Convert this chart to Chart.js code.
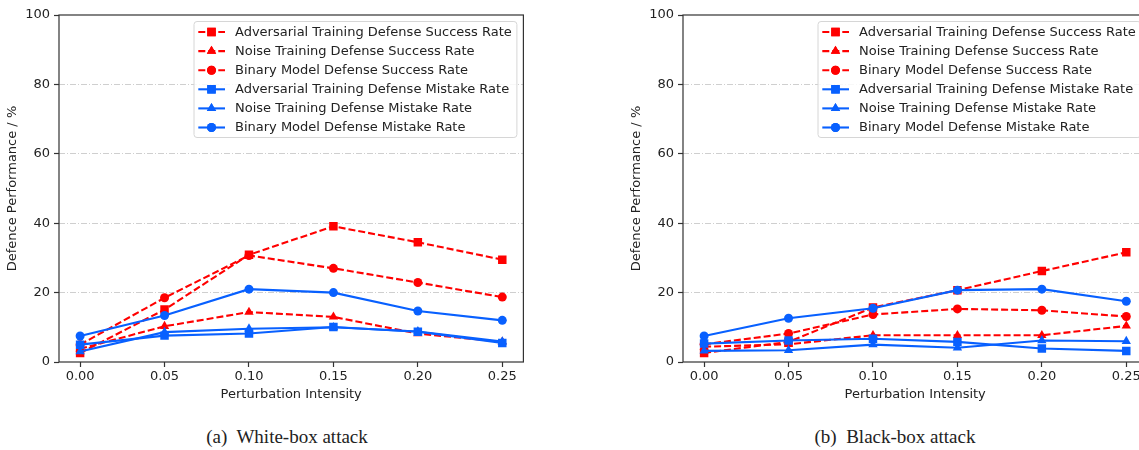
<!DOCTYPE html>
<html>
<head>
<meta charset="utf-8">
<script src="https://cdn.jsdelivr.net/npm/chart.js@4"></script>
<style>
  html, body { margin: 0; padding: 0; background: #fff; }
  body { width: 1139px; height: 450px; overflow: hidden; position: relative; }
  canvas { position: absolute; top: 0; }
  #cA { left: 0; }
  #cB { left: 624px; }
  .cap { position: absolute; top: 426px; font-family: "Liberation Serif", "Times New Roman", serif; font-size: 19px; color: #222; white-space: pre; transform: translateX(-50%); }
</style>
</head>
<body>
<canvas id="cA" width="560" height="410"></canvas>
<canvas id="cB" width="560" height="410"></canvas>
<div class="cap" style="left:287px">(a)  White-box attack</div>
<div class="cap" style="left:895px">(b)  Black-box attack</div>
<script>
// ---------- data ----------
const xTicks = [0.00, 0.05, 0.10, 0.15, 0.20, 0.25];
const yTicks = [0, 20, 40, 60, 80, 100];
const seriesNames = [
  "Adversarial Training Defense Success Rate",
  "Noise Training Defense Success Rate",
  "Binary Model Defense Success Rate",
  "Adversarial Training Defense Mistake Rate",
  "Noise Training Defense Mistake Rate",
  "Binary Model Defense Mistake Rate"
];
const xTitle = "Perturbation Intensity";
const yTitle = "Defence Performance / %";

// White-box attack
const whiteAdvSuccess    = [2.6, 15.1, 30.9, 39.1, 34.5, 29.5];
const whiteNoiseSuccess  = [3.8, 10.3, 14.4, 13.0, 8.2, 5.8];
const whiteBinarySuccess = [5.0, 18.5, 30.7, 27.0, 22.9, 18.7];
const whiteAdvMistake    = [5.0, 7.6, 8.2, 10.1, 8.7, 5.5];
const whiteNoiseMistake  = [3.0, 8.6, 9.6, 10.0, 8.8, 5.9];
const whiteBinaryMistake = [7.5, 13.4, 21.0, 20.0, 14.7, 12.0];

// Black-box attack
const blackAdvSuccess    = [2.6, 5.8, 15.7, 20.7, 26.2, 31.6];
const blackNoiseSuccess  = [4.4, 5.1, 7.7, 7.7, 7.7, 10.4];
const blackBinarySuccess = [5.1, 8.2, 13.7, 15.3, 14.9, 13.1];
const blackAdvMistake    = [5.3, 6.2, 6.7, 5.8, 3.9, 3.2];
const blackNoiseMistake  = [3.2, 3.4, 5.0, 4.1, 6.2, 6.0];
const blackBinaryMistake = [7.5, 12.6, 15.5, 20.7, 21.0, 17.5];

// ---------- styles ----------
const RED = "#ff0000";
const BLUE = "rgb(8,96,255)";
const FONT = "'DejaVu Sans', sans-serif";
const FS = 13;
const TXT = "#222";
const styles = [
  {color: RED, dash: [7, 3], point: "rect", r: 6, order: 2},
  {color: RED, dash: [7, 3], point: "triangle", r: 5.4, order: 2},
  {color: RED, dash: [7, 3], point: "circle", r: 4.5, order: 2},
  {color: BLUE, dash: [], point: "rect", r: 6, order: 1},
  {color: BLUE, dash: [], point: "triangle", r: 5.4, order: 1},
  {color: BLUE, dash: [], point: "circle", r: 4.5, order: 1}
];

function toPoints(vals) { return vals.map((v, i) => ({x: xTicks[i], y: v})); }

function makeDatasets(arrs) {
  return arrs.map((vals, i) => {
    const s = styles[i];
    return {
      label: seriesNames[i],
      data: toPoints(vals),
      borderColor: s.color,
      backgroundColor: s.color,
      pointBackgroundColor: s.color,
      pointBorderColor: s.color,
      pointBorderWidth: 0,
      borderWidth: 2.1,
      borderDash: s.dash,
      pointStyle: s.point,
      pointRadius: s.r,
      pointHoverRadius: s.r,
      tension: 0,
      order: s.order,
      _legendStyle: s
    };
  });
}

// frame + inner legend plugin
const framePlugin = {
  id: "frameLegend",
  afterDraw(chart) {
    const ctx = chart.ctx;
    const a = chart.chartArea;
    ctx.save();
    // frame
    ctx.strokeStyle = "#333";
    ctx.lineWidth = 1.2;
    ctx.setLineDash([]);
    ctx.strokeRect(a.left, a.top, a.right - a.left, a.bottom - a.top);
    // legend
    const bx = a.left + 135, by = a.top + 6.5;
    const bw = a.right - 6.5 - bx, bh = 116;
    ctx.fillStyle = "rgba(255,255,255,0.85)";
    ctx.strokeStyle = "#d6d6d6";
    ctx.lineWidth = 1;
    ctx.beginPath();
    if (ctx.roundRect) ctx.roundRect(bx, by, bw, bh, 3); else ctx.rect(bx, by, bw, bh);
    ctx.fill();
    ctx.stroke();
    ctx.font = FS + "px " + FONT;
    ctx.textBaseline = "middle";
    ctx.textAlign = "left";
    chart.data.datasets.forEach((ds, i) => {
      const s = ds._legendStyle;
      const cy = by + 10.5 + i * 19.1;
      ctx.strokeStyle = s.color;
      ctx.lineWidth = 2.1;
      ctx.setLineDash(s.dash);
      ctx.beginPath();
      ctx.moveTo(bx + 4.3, cy);
      ctx.lineTo(bx + 31, cy);
      ctx.stroke();
      ctx.setLineDash([]);
      ctx.fillStyle = s.color;
      Chart.helpers.drawPoint(ctx, {pointStyle: s.point, radius: s.r, borderWidth: 0, rotation: 0}, bx + 17.5, cy);
      ctx.fill();
      ctx.fillStyle = TXT;
      ctx.fillText(ds.label, bx + 41, cy + 0.5);
    });
    ctx.restore();
  }
};

function makeChart(id, arrs) {
  return new Chart(document.getElementById(id), {
    type: "line",
    data: {datasets: makeDatasets(arrs)},
    plugins: [framePlugin],
    options: {
      responsive: false,
      animation: false,
      devicePixelRatio: 1,
      layout: {padding: {top: 15, right: 36.6, bottom: 0, left: 0}},
      plugins: {legend: {display: false}, tooltip: {enabled: false}},
      scales: {
        x: {
          type: "linear",
          min: xTicks[0] - 0.0125,
          max: xTicks[xTicks.length - 1] + 0.0125,
          afterBuildTicks(scale) { scale.ticks = xTicks.map(v => ({value: v})); },
          afterFit(scale) { scale.height = 48; },
          ticks: {
            callback: v => Number(v).toFixed(2),
            font: {family: FONT, size: FS},
            color: TXT,
            padding: 2,
            maxRotation: 0,
            autoSkip: false
          },
          grid: {drawOnChartArea: false, drawTicks: true, tickLength: 5, tickColor: "#333", tickWidth: 1.2},
          border: {display: false},
          title: {display: true, text: xTitle, font: {family: FONT, size: FS}, color: TXT, padding: {top: 0, bottom: 8}}
        },
        y: {
          type: "linear",
          min: yTicks[0],
          max: yTicks[yTicks.length - 1],
          afterBuildTicks(scale) { scale.ticks = yTicks.map(v => ({value: v})); },
          afterFit(scale) { scale.width = 59; },
          ticks: {
            font: {family: FONT, size: FS},
            color: TXT,
            padding: 4
          },
          grid: {
            color: c => (c.tick && (c.tick.value === yTicks[0] || c.tick.value === yTicks[yTicks.length - 1])) ? "rgba(0,0,0,0)" : "#cfcfcf",
            lineWidth: 1,
            drawTicks: true,
            tickLength: 5,
            tickColor: "#333",
            tickWidth: 1.2,
            tickBorderDash: []
          },
          border: {display: false, dash: [6, 2, 1, 2]},
          title: {display: true, text: yTitle, font: {family: FONT, size: FS}, color: TXT, padding: {top: 5, bottom: 0}}
        }
      }
    }
  });
}

makeChart("cA", [whiteAdvSuccess, whiteNoiseSuccess, whiteBinarySuccess, whiteAdvMistake, whiteNoiseMistake, whiteBinaryMistake]);
makeChart("cB", [blackAdvSuccess, blackNoiseSuccess, blackBinarySuccess, blackAdvMistake, blackNoiseMistake, blackBinaryMistake]);
</script>
</body>
</html>
